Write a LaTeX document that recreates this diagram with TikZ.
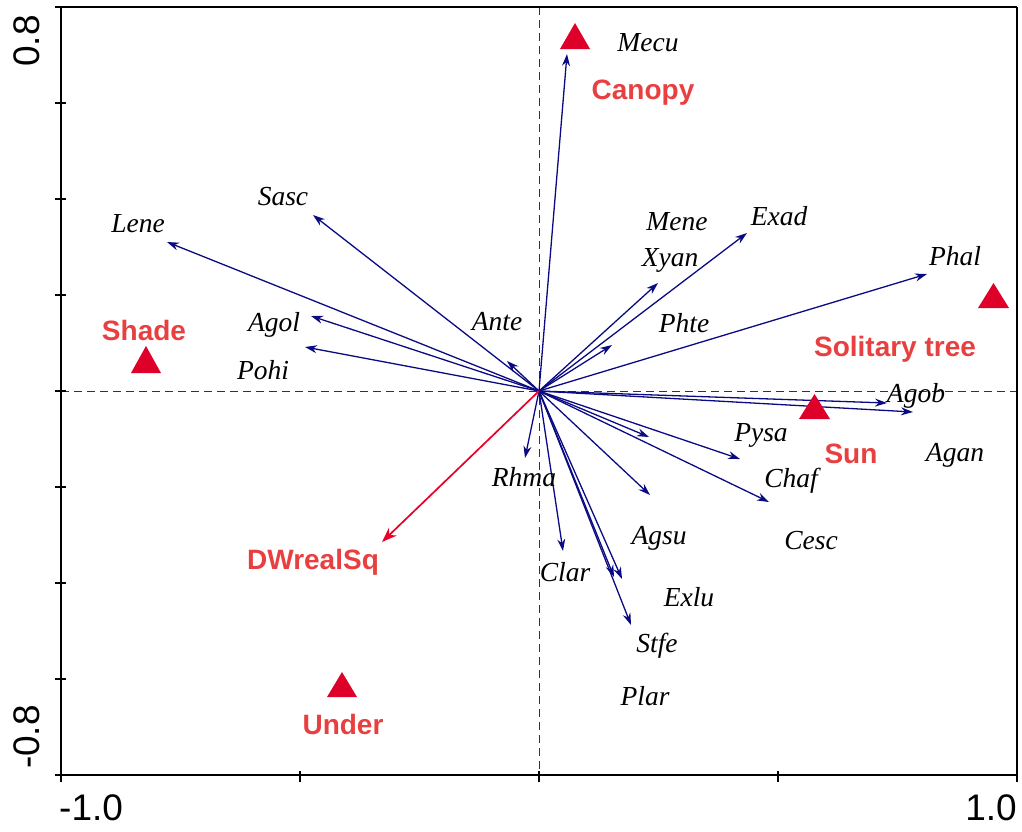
\documentclass[tikz,border=0pt]{standalone}
\usepackage{fontspec}
\setmainfont{Liberation Serif}
\setsansfont{Liberation Sans}
\usetikzlibrary{arrows.meta}
\definecolor{navyarr}{RGB}{10,10,130}
\definecolor{labred}{RGB}{232,64,64}
\definecolor{trired}{RGB}{222,0,40}
\definecolor{arrred}{RGB}{232,0,40}
\tikzset{
  sp/.style={font=\fontsize{27.5}{30}\selectfont\itshape, inner sep=0pt},
  env/.style={font=\fontsize{28}{32}\selectfont\sffamily\bfseries, text=labred, inner sep=0pt},
  ticklab/.style={font=\fontsize{37}{40}\selectfont\sffamily, inner sep=0pt},
  vec/.style={draw=navyarr, line width=1.3pt, -{Stealth[length=12pt,width=8pt]}},
  redvec/.style={draw=arrred, line width=1.7pt, -{Stealth[length=15pt,width=11pt]}},
  tri/.style={fill=trired},
  axisline/.style={line width=1.6pt},
  dash0/.style={dash pattern=on 8pt off 5pt, line width=0.9pt, color=black!80}
}
\begin{document}
\begin{tikzpicture}[x=1pt,y=-1pt]
\useasboundingbox (0,0) rectangle (1022,831);
% frame corners
\coordinate (TL) at (61,7);
\coordinate (TR) at (1017,7);
\coordinate (BL) at (61,775);
\coordinate (BR) at (1017,775);
\coordinate (O) at (539,391);
\coordinate (VT) at (539,7);
\coordinate (VB) at (539,775);
\coordinate (HL) at (61,391);
\coordinate (HR) at (1017,391);
% dashed zero lines
\draw[dash0] (VT) -- (VB);
\draw[dash0] (HL) -- (HR);
% frame (left, top, right, bottom)
\draw[axisline] (TR) -- (TL) -- (BL) -- (BR) -- (TR);
% ticks
\foreach \yy in {7,103,199,295,391,487,583,679,775}
  \draw[line width=1.4pt] (55,\yy) -- (66,\yy);
\foreach \xx in {61,300,539,778,1017}
  \draw[line width=1.4pt] (\xx,771) -- (\xx,782);
% tick labels
\node[ticklab, rotate=90] (y08) at (27,41) {0.8};
\node[ticklab, rotate=90] (ym08) at (27,737) {-0.8};
\node[ticklab, anchor=west] (xm1) at (59,808) {-1.0};
\node[ticklab, anchor=east] (x1) at (1017,808) {1.0};

% species arrow tips
\coordinate (tMecu) at (567,54);
\coordinate (tLene) at (167,242);
\coordinate (tSasc) at (313,215);
\coordinate (tAgol) at (311,316);
\coordinate (tPohi) at (305,347);
\coordinate (tAnte) at (507,361);
\coordinate (tXyan) at (658,283);
\coordinate (tExad) at (747,233);
\coordinate (tPhte) at (612,345);
\coordinate (tPhal) at (927,274);
\coordinate (tAgob) at (887,403);
\coordinate (tAgan) at (913,412);
\coordinate (tPysa) at (740,459);
\coordinate (tChaf) at (769,502);
\coordinate (tA1) at (649,437);
\coordinate (tA2) at (650,495);
\coordinate (tRhma) at (525,458);
\coordinate (tClar) at (563,551);
\coordinate (tB1) at (614,577);
\coordinate (tB2) at (622,579);
\coordinate (tStfe) at (631,625);
\coordinate (tDW) at (382,542);

\foreach \t in {tMecu,tLene,tSasc,tAgol,tPohi,tAnte,tXyan,tExad,tPhte,tPhal,tAgob,tAgan,tPysa,tChaf,tA1,tA2,tRhma,tClar,tB1,tB2,tStfe}
  \draw[vec] (O) -- (\t);
\draw[redvec] (O) -- (tDW);

% species labels
\node[sp] (Mecu) at (648,43) {Mecu};
\node[sp] (Lene) at (138,224) {Lene};
\node[sp] (Sasc) at (283,197) {Sasc};
\node[sp] (Agol) at (274,325) {Agol};
\node[sp] (Pohi) at (263,370) {Pohi};
\node[sp] (Ante) at (497,322) {Ante};
\node[sp] (Mene) at (677,222) {Mene};
\node[sp] (Xyan) at (670,260) {Xyan};
\node[sp] (Phte) at (684,323) {Phte};
\node[sp] (Exad) at (779,216) {Exad};
\node[sp] (Phal) at (955,256) {Phal};
\node[sp] (Agob) at (916,396) {Agob};
\node[sp] (Agan) at (955,455) {Agan};
\node[sp] (Pysa) at (761,435) {Pysa};
\node[sp] (Chaf) at (791,481) {Chaf};
\node[sp] (Cesc) at (811,541) {Cesc};
\node[sp] (Rhma) at (524,477) {Rhma};
\node[sp] (Clar) at (565,572) {Clar};
\node[sp] (Agsu) at (659,538) {Agsu};
\node[sp] (Exlu) at (689,597) {Exlu};
\node[sp] (Stfe) at (657,646) {Stfe};
\node[sp] (Plar) at (645,696) {Plar};

% environment triangles
\fill[tri] (560,49) -- (590,49) -- (575,23) -- cycle;
\fill[tri] (978,308) -- (1009,308) -- (993.5,283) -- cycle;
\fill[tri] (799,419) -- (830,419) -- (814.5,394) -- cycle;
\fill[tri] (131,373) -- (161,373) -- (146,346) -- cycle;
\fill[tri] (327,697) -- (357,697) -- (342,672) -- cycle;

% environment labels
\node[env] (Canopy) at (643,93) {Canopy};
\node[env] (Solitary) at (895,349) {Solitary tree};
\node[env] (Sun) at (851,454) {Sun};
\node[env] (Shade) at (144,330) {Shade};
\node[env] (Under) at (343,724) {Under};
\node[env] (DW) at (313,562) {DWrealSq};
\end{tikzpicture}
\end{document}
